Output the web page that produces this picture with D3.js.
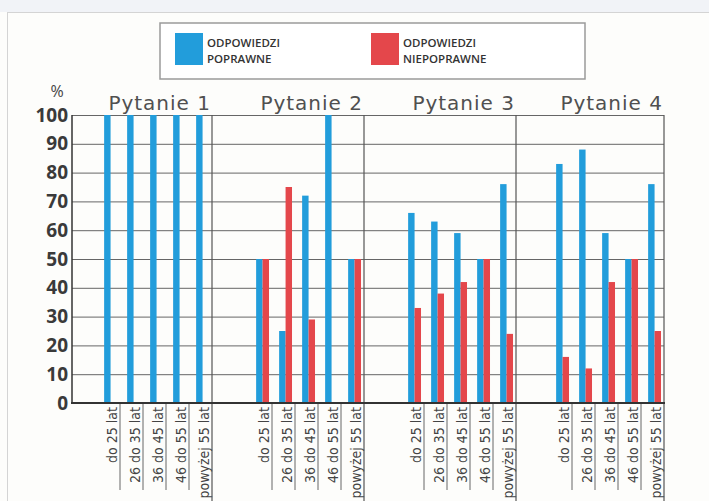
<!DOCTYPE html>
<html>
<head>
<meta charset="utf-8">
<script src="https://cdn.jsdelivr.net/npm/d3@7"></script>
<style>
  body { margin: 0; padding: 0; background: #fdfdfb; }
  svg { display: block; }
</style>
</head>
<body>
<script>
// data
var panels = ["Pytanie 1", "Pytanie 2", "Pytanie 3", "Pytanie 4"];
var ages = ["do 25 lat", "26 do 35 lat", "36 do 45 lat", "46 do 55 lat", "powyżej 55 lat"];
var correct = [
  [100, 100, 100, 100, 100],
  [50, 25, 72, 100, 50],
  [66, 63, 59, 50, 76],
  [83, 88, 59, 50, 76]
];
var incorrect = [
  [0, 0, 0, 0, 0],
  [50, 75, 29, 0, 50],
  [33, 38, 42, 50, 24],
  [16, 12, 42, 50, 25]
];
var yTicks = [0, 10, 20, 30, 40, 50, 60, 70, 80, 90, 100];
var legendItems = [["ODPOWIEDZI", "POPRAWNE"], ["ODPOWIEDZI", "NIEPOPRAWNE"]];

var BLUE = "#229ddb", RED = "#e4474b";

var svg = d3.select("body").append("svg")
  .attr("width", 709).attr("height", 501);

// page frame
svg.append("rect").attr("x", 0).attr("y", 0).attr("width", 709).attr("height", 12).attr("fill", "#f1f3f7");
svg.append("line").attr("x1", 7).attr("x2", 709).attr("y1", 12.5).attr("y2", 12.5).attr("stroke", "#d4d4d4");
svg.append("line").attr("x1", 7.5).attr("x2", 7.5).attr("y1", 12).attr("y2", 501).attr("stroke", "#d4d4d4");

// scales
var y = d3.scaleLinear().domain([0, 100]).range([403, 115]);
var xPanel = d3.scaleLinear().domain([0, 1, 2, 3, 4]).range([72, 212, 364, 516, 664]);
var groupW = 23;
function xGroup(p) {
  return d3.scaleBand().domain(ages).range([xPanel(p + 1) - groupW * ages.length, xPanel(p + 1)]);
}

// grid + y axis
var yAxis = d3.axisLeft(y).tickValues(yTicks).tickSize(-(664 - 72)).tickPadding(4);
var gy = svg.append("g").attr("transform", "translate(72,0)").call(yAxis);
gy.select(".domain").remove();
gy.selectAll(".tick line").attr("stroke", "#666").attr("stroke-width", 1);
gy.selectAll(".tick text")
  .attr("fill", "#3a3a3a")
  .style("font-family", "'Open Sans', sans-serif")
  .style("font-weight", "700")
  .style("font-size", "19px");

svg.append("text").attr("x", 57).attr("y", 97).attr("text-anchor", "middle")
  .attr("fill", "#444").style("font-family", "'Open Sans', sans-serif").style("font-size", "16px")
  .text("%");

// panel dividers
svg.selectAll(".divider").data(d3.range(1, 5)).enter().append("line")
  .attr("class", "divider")
  .attr("x1", function(d){ return xPanel(d); }).attr("x2", function(d){ return xPanel(d); })
  .attr("y1", y(100)).attr("y2", 501)
  .attr("stroke", "#555").attr("stroke-width", 1.2);

// panel titles
svg.selectAll(".ptitle").data(panels).enter().append("text")
  .attr("class", "ptitle")
  .attr("x", function(d, i){ return xPanel(i + 1) - 1; })
  .attr("y", 110)
  .attr("text-anchor", "end")
  .attr("fill", "#505050")
  .style("font-family", "'DejaVu Sans', sans-serif")
  .style("font-size", "20px")
  .style("letter-spacing", "1px")
  .text(function(d){ return d; });

// bars
panels.forEach(function(p, pi) {
  var xg = xGroup(pi);
  var bw = xg.bandwidth();
  var g = svg.append("g");
  g.selectAll(".blue").data(correct[pi]).enter().append("rect")
    .attr("x", function(d, i){ return xg(ages[i]) + bw * 0.31; })
    .attr("width", bw * 0.28)
    .attr("y", function(d){ return y(d); })
    .attr("height", function(d){ return y(0) - y(d); })
    .attr("fill", BLUE);
  g.selectAll(".red").data(incorrect[pi]).enter().append("rect")
    .attr("x", function(d, i){ return xg(ages[i]) + bw * 0.59; })
    .attr("width", bw * 0.28)
    .attr("y", function(d){ return y(d); })
    .attr("height", function(d){ return y(0) - y(d); })
    .attr("fill", RED);

  // separators under the axis
  g.selectAll(".sep").data(ages.slice(0, ages.length - 1)).enter().append("line")
    .attr("x1", function(d){ return xg(d) + bw; }).attr("x2", function(d){ return xg(d) + bw; })
    .attr("y1", y(0)).attr("y2", 490)
    .attr("stroke", "#666").attr("stroke-width", 1);

  // category labels
  g.selectAll(".lab").data(ages).enter().append("text")
    .attr("transform", function(d){ return "translate(" + (xg(d) + bw - 3) + ",407) rotate(-90)"; })
    .attr("text-anchor", "end")
    .attr("fill", "#444")
    .style("font-family", "'Liberation Sans Narrow', 'DejaVu Sans Condensed', sans-serif")
    .style("font-size", "14px")
    .text(function(d){ return d; });
});

// axes lines
svg.append("line").attr("x1", 72).attr("x2", 72).attr("y1", y(100)).attr("y2", y(0))
  .attr("stroke", "#333").attr("stroke-width", 1.5);
svg.append("line").attr("x1", 71).attr("x2", 665).attr("y1", y(0)).attr("y2", y(0))
  .attr("stroke", "#333").attr("stroke-width", 2);

// legend
var leg = svg.append("g");
leg.append("rect").attr("x", 160).attr("y", 23).attr("width", 425).attr("height", 56)
  .attr("fill", "#fff").attr("stroke", "#9a9a9a").attr("stroke-width", 1.5);
var legX = [175, 371];
var legC = [BLUE, RED];
legendItems.forEach(function(lines, i) {
  leg.append("rect").attr("x", legX[i]).attr("y", 33).attr("width", 28).attr("height", 32).attr("fill", legC[i]);
  lines.forEach(function(s, k) {
    leg.append("text").attr("x", legX[i] + 32).attr("y", 47 + k * 16)
      .attr("fill", "#333")
      .style("font-family", "'Open Sans', sans-serif")
      .style("font-weight", "600")
      .style("font-size", "11.5px")
      .text(s);
  });
});
</script>
</body>
</html>
